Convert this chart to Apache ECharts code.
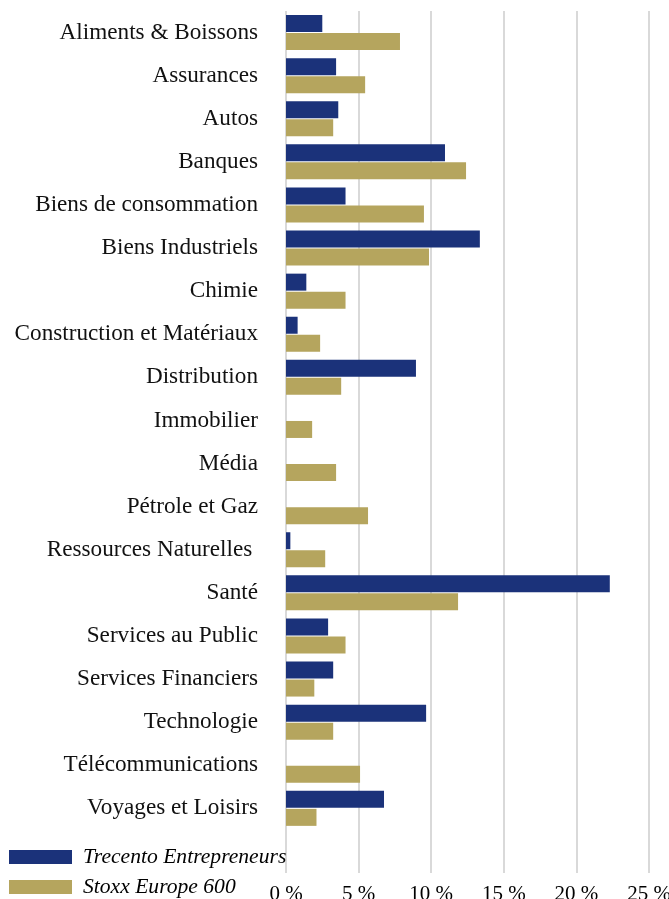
<!DOCTYPE html>
<html>
<head>
<meta charset="utf-8">
<script src="https://cdn.jsdelivr.net/npm/echarts@6/dist/echarts.min.js"></script>
<style>
html,body{margin:0;padding:0;background:#fff;}
#chart{width:669px;height:899px;}
</style>
</head>
<body>
<div id="chart"></div>
<script>
var categories = ["Aliments & Boissons","Assurances","Autos","Banques","Biens de consommation","Biens Industriels","Chimie","Construction et Matériaux","Distribution","Immobilier","Média","Pétrole et Gaz","Ressources Naturelles ","Santé","Services au Public","Services Financiers","Technologie","Télécommunications","Voyages et Loisirs",""];
var trecento = [2.5, 3.45, 3.6, 10.95, 4.1, 13.35, 1.4, 0.8, 8.95, null, null, null, 0.3, 22.3, 2.9, 3.25, 9.65, null, 6.75, null];
var stoxx = [7.85, 5.45, 3.25, 12.4, 9.5, 9.85, 4.1, 2.35, 3.8, 1.8, 3.45, 5.65, 2.7, 11.85, 4.1, 1.95, 3.25, 5.1, 2.1, null];
var seriesNames = ["Trecento Entrepreneurs", "Stoxx Europe 600"];
var xTicks = [0, 5, 10, 15, 20, 25];

var chart = echarts.init(document.getElementById('chart'));
chart.setOption({
  animation: false,
  textStyle: {fontFamily: '"Liberation Serif", serif'},
  legend: {
    orient: 'vertical',
    left: 9, top: 846, height: 60, padding: 0,
    itemWidth: 63, itemHeight: 14, itemGap: 8,
    icon: 'rect',
    textStyle: {fontFamily: '"Liberation Serif", serif', fontStyle: 'italic', fontSize: 21.6, color: '#000', padding: [0,0,0,6]},
    data: seriesNames
  },
  grid: {left: 286, right: 20, top: 11, bottom: 26, outerBoundsMode: 'none', containLabel: false},
  xAxis: {
    type: 'value', min: 0, max: 25, interval: 5,
    axisLine: {show: false}, axisTick: {show: false},
    splitLine: {lineStyle: {color: '#D9D9D9', width: 2}},
    axisLabel: {fontSize: 21, color: '#000', margin: 11, formatter: function(v){ return xTicks.indexOf(v) >= 0 ? v + ' %' : ''; }}
  },
  yAxis: {
    type: 'category', inverse: true, data: categories,
    axisLine: {show: false}, axisTick: {show: false},
    axisLabel: {fontSize: 23.2, color: '#111', margin: 28}
  },
  series: [
    {name: seriesNames[0], type: 'bar', data: trecento, barWidth: 17, barGap: '6%', itemStyle: {color: '#1B327A'}},
    {name: seriesNames[1], type: 'bar', data: stoxx, barWidth: 17, barGap: '6%', itemStyle: {color: '#B5A55E'}}
  ]
});
</script>
</body>
</html>
